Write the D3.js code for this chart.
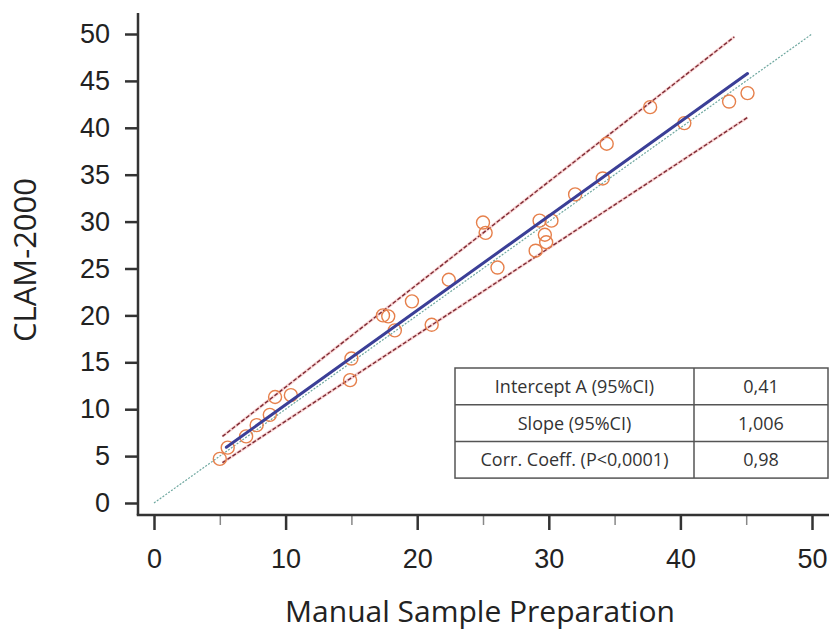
<!DOCTYPE html>
<html>
<head>
<meta charset="utf-8">
<script src="https://cdn.jsdelivr.net/npm/d3@7"></script>
<style>
  html, body { margin: 0; padding: 0; background: #fff; }
  svg { display: block; }
</style>
</head>
<body>
<svg id="chart" width="829" height="632"></svg>
<script>
// ---- data ----
const manual = [5.0, 5.6, 7.0, 7.8, 8.8, 9.2, 10.4, 14.9, 15.0, 17.4, 17.8, 18.3, 19.6, 21.1, 22.4,
                25.0, 25.2, 26.1, 29.0, 29.3, 29.7, 29.8, 30.2, 32.0, 34.1, 34.4, 37.7, 40.3, 43.7, 45.1];
const clam   = [4.7, 5.9, 7.1, 8.3, 9.4, 11.3, 11.5, 13.1, 15.4, 20.0, 19.9, 18.4, 21.5, 19.0, 23.8,
                29.9, 28.8, 25.1, 26.9, 30.1, 28.6, 27.8, 30.1, 32.9, 34.6, 38.3, 42.2, 40.5, 42.8, 43.7];
const intercept = 0.41;
const slope = 1.006;
const regressionRange = [5.5, 45.1];
const identityRange = [0, 50];
const upperBand = [[5.2, 7.1], [44.1, 49.7]];
const lowerBand = [[5.2, 4.3], [45.1, 41.1]];
const yTicks = [0, 5, 10, 15, 20, 25, 30, 35, 40, 45, 50];
const xMajorTicks = [0, 10, 20, 30, 40, 50];
const xMinorTicks = [5, 15, 25, 35, 45];
const tableLabels = ["Intercept A (95%CI)", "Slope (95%CI)", "Corr. Coeff. (P<0,0001)"];
const tableValues = ["0,41", "1,006", "0,98"];
const xTitle = "Manual Sample Preparation";
const yTitle = "CLAM-2000";

// ---- drawing ----
const svg = d3.select("#chart");
const x = d3.scaleLinear().domain([0, 50]).range([154, 812]);
const y = d3.scaleLinear().domain([0, 50]).range([503, 34]);
const axisX = 138, axisY = 515;
const tickFont = "'Liberation Sans', Arial, Helvetica, sans-serif";
const titleFont = "'Open Sans', 'Noto Sans', sans-serif";

// identity line
svg.append("line")
  .attr("x1", x(identityRange[0])).attr("y1", y(identityRange[0]))
  .attr("x2", x(identityRange[1])).attr("y2", y(identityRange[1]))
  .attr("stroke", "#6fa8a0").attr("stroke-width", 1.2)
  .attr("stroke-dasharray", "2,1.5");

// confidence bands
const line = d3.line().x(d => x(d[0])).y(d => y(d[1]));
[upperBand, lowerBand].forEach(b => {
  svg.append("path").attr("d", line(b))
    .attr("fill", "none").attr("stroke", "#f3b9b9").attr("stroke-width", 3).attr("opacity", 0.6);
  svg.append("path").attr("d", line(b))
    .attr("fill", "none").attr("stroke", "#7e2a33").attr("stroke-width", 1.4)
    .attr("stroke-dasharray", "4,2");
});

// points
const pts = manual.map((m, i) => [m, clam[i]]);
svg.append("g").selectAll("circle").data(pts).join("circle")
  .attr("cx", d => x(d[0])).attr("cy", d => y(d[1])).attr("r", 6.5)
  .attr("fill", "none").attr("stroke", "#e6804c").attr("stroke-width", 1.4);

// regression line
svg.append("line")
  .attr("x1", x(regressionRange[0])).attr("y1", y(intercept + slope * regressionRange[0]))
  .attr("x2", x(regressionRange[1])).attr("y2", y(intercept + slope * regressionRange[1]))
  .attr("stroke", "#3b3f97").attr("stroke-width", 3).attr("stroke-linecap", "round");

// y axis
const yAxisG = svg.append("g").attr("transform", `translate(${axisX},0)`)
  .call(d3.axisLeft(y).tickValues(yTicks).tickSize(13).tickPadding(15).tickSizeOuter(0));
yAxisG.select(".domain").remove();
yAxisG.selectAll(".tick line").attr("stroke", "#333").attr("stroke-width", 2.5);
yAxisG.selectAll(".tick text").attr("font-family", tickFont).attr("font-size", 27).attr("fill", "#222");

// x axis major
const xAxisG = svg.append("g").attr("transform", `translate(0,${axisY})`)
  .call(d3.axisBottom(x).tickValues(xMajorTicks).tickSize(15).tickPadding(19).tickSizeOuter(0));
xAxisG.select(".domain").remove();
xAxisG.selectAll(".tick line").attr("stroke", "#333").attr("stroke-width", 2.5);
xAxisG.selectAll(".tick text").attr("font-family", tickFont).attr("font-size", 27).attr("fill", "#222");
// x axis minor
const xMinorG = svg.append("g").attr("transform", `translate(0,${axisY})`)
  .call(d3.axisBottom(x).tickValues(xMinorTicks).tickSize(10).tickFormat(""));
xMinorG.select(".domain").remove();
xMinorG.selectAll(".tick line").attr("stroke", "#888").attr("stroke-width", 1.5);

// axis lines
svg.append("line").attr("x1", axisX).attr("y1", 13).attr("x2", axisX).attr("y2", axisY)
  .attr("stroke", "#333").attr("stroke-width", 2.5);
svg.append("line").attr("x1", axisX - 1.25).attr("y1", axisY).attr("x2", 829).attr("y2", axisY)
  .attr("stroke", "#333").attr("stroke-width", 2.5);

// titles
svg.append("text").attr("x", 480).attr("y", 622).attr("text-anchor", "middle")
  .attr("font-family", titleFont).attr("font-size", 30).attr("fill", "#222").text(xTitle);
svg.append("text").attr("transform", "translate(36,260) rotate(-90)").attr("text-anchor", "middle")
  .attr("font-family", titleFont).attr("font-size", 31).attr("fill", "#222").text(yTitle);

// table
const tX0 = 455, tX1 = 694, tX2 = 828, tY0 = 368, rowH = 36.7;
const tg = svg.append("g");
tg.append("rect").attr("x", tX0).attr("y", tY0).attr("width", tX2 - tX0).attr("height", rowH * tableLabels.length)
  .attr("fill", "#fff").attr("stroke", "#555").attr("stroke-width", 1.5);
tg.append("line").attr("x1", tX1).attr("x2", tX1).attr("y1", tY0).attr("y2", tY0 + rowH * tableLabels.length)
  .attr("stroke", "#555").attr("stroke-width", 1.5);
tableLabels.forEach((lab, i) => {
  if (i > 0) tg.append("line").attr("x1", tX0).attr("x2", tX2)
    .attr("y1", tY0 + rowH * i).attr("y2", tY0 + rowH * i).attr("stroke", "#555").attr("stroke-width", 1.5);
  const cy = tY0 + rowH * i + rowH / 2;
  tg.append("text").attr("x", (tX0 + tX1) / 2).attr("y", cy).attr("dy", "0.36em")
    .attr("text-anchor", "middle").attr("font-family", titleFont).attr("font-size", 18)
    .attr("fill", "#333").text(lab);
  tg.append("text").attr("x", (tX1 + tX2) / 2).attr("y", cy).attr("dy", "0.36em")
    .attr("text-anchor", "middle").attr("font-family", titleFont).attr("font-size", 18)
    .attr("fill", "#333").text(tableValues[i]);
});
</script>
</body>
</html>
